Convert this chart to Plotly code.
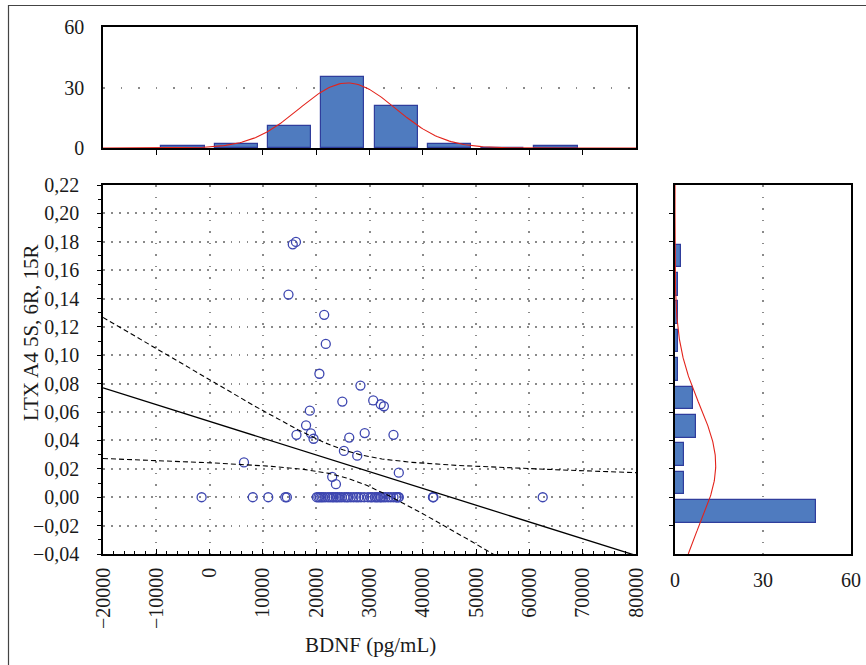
import numpy as np
import plotly.graph_objects as go

# ---------------- data ----------------
# BDNF (pg/mL) and LTX A4 5S,6R,15R for each subject
bdnf = [15600, 16200, 14800, 21500, 21800, 20600, 18800, 18100, 16300, 19000,
        19500, 6450, 28300, 24900, 30700, 32100, 32700, 26200, 29100, 34500,
        25200, 27700, 35500, 23000, 23700,
        -1500, 8100, 11000, 14200, 14500,
        20100, 20400, 20700, 21000, 21300, 21700, 22200, 22600, 23000, 23300,
        23700, 24000, 24400, 24800, 25300, 25700, 26000, 26500, 27000, 27500,
        27900, 28400, 29000, 29700,
        30200, 30500, 31000, 31300, 31600, 32000, 32200, 32600, 33000, 33500,
        34000, 34500, 35000, 35100, 35400, 35500,
        41900, 42000, 62500]
ltx = [0.1782, 0.1799, 0.1428, 0.1285, 0.108, 0.087, 0.061, 0.0507, 0.044, 0.045,
       0.0412, 0.0245, 0.0787, 0.0674, 0.0682, 0.0655, 0.0641, 0.042, 0.0452, 0.044,
       0.0326, 0.0293, 0.0173, 0.0144, 0.0092,
       0.0, 0.0, 0.0, 0.0, 0.0,
       0.0, 0.0, 0.0, 0.0, 0.0, 0.0, 0.0, 0.0, 0.0, 0.0,
       0.0, 0.0, 0.0, 0.0, 0.0, 0.0, 0.0, 0.0, 0.0, 0.0,
       0.0, 0.0, 0.0, 0.0,
       0.0, 0.0, 0.0, 0.0, 0.0, 0.0, 0.0, 0.0, 0.0, 0.0,
       0.0, 0.0, 0.0, 0.0, 0.0, 0.0,
       0.0, 0.0, 0.0]

x_tick_vals = [-20000, -10000, 0, 10000, 20000, 30000, 40000, 50000, 60000, 70000, 80000]
x_tick_text = ["\u221220000", "\u221210000", "0", "10000", "20000", "30000",
               "40000", "50000", "60000", "70000", "80000"]
y_tick_vals = [-0.04, -0.02, 0.00, 0.02, 0.04, 0.06, 0.08, 0.10, 0.12, 0.14,
               0.16, 0.18, 0.20, 0.22]
y_tick_text = ["\u22120,04", "\u22120,02", "0,00", "0,02", "0,04", "0,06", "0,08",
               "0,10", "0,12", "0,14", "0,16", "0,18", "0,20", "0,22"]
hist_tick_vals = [0, 30, 60]
hist_tick_text = ["0", "30", "60"]

x_bin_edges = [-10000, 0, 10000, 20000, 30000, 40000, 50000, 60000, 70000]
y_bin_edges = [-0.02, 0.0, 0.02, 0.04, 0.06, 0.08, 0.10, 0.12, 0.14, 0.16, 0.18, 0.20]

x_title = "BDNF (pg/mL)"
y_title = "LTX A4 5S, 6R, 15R"

t95 = 1.994  # Student t, 95 %, df = 71

# ---------------- derived quantities ----------------
X = np.array(bdnf, dtype=float)
Y = np.array(ltx, dtype=float)
n = len(X)

xe = np.array(x_bin_edges, dtype=float)
x_counts, _ = np.histogram(X, bins=xe)
x_centers = (xe[:-1] + xe[1:]) / 2
x_bw = xe[1] - xe[0]

ye = np.array(y_bin_edges, dtype=float)
idx = np.searchsorted(ye, Y - 1e-12, side="left") - 1   # right-inclusive bins
y_counts = np.bincount(idx, minlength=len(ye) - 1)[:len(ye) - 1]
y_centers = (ye[:-1] + ye[1:]) / 2
y_bw = ye[1] - ye[0]

xbar, ybar = X.mean(), Y.mean()
Sxx = ((X - xbar) ** 2).sum()
slope = ((X - xbar) * (Y - ybar)).sum() / Sxx
icpt = ybar - slope * xbar
s = np.sqrt(((Y - (icpt + slope * X)) ** 2).sum() / (n - 2))

xg = np.linspace(-20000, 80000, 301)
fit = icpt + slope * xg
half = t95 * s * np.sqrt(1 / n + (xg - xbar) ** 2 / Sxx)

sx, sy = X.std(ddof=1), Y.std(ddof=1)
xcurve = n * x_bw / (sx * np.sqrt(2 * np.pi)) * np.exp(-0.5 * ((xg - xbar) / sx) ** 2)
yg = np.linspace(-0.04, 0.22, 301)
ycurve = n * y_bw / (sy * np.sqrt(2 * np.pi)) * np.exp(-0.5 * ((yg - ybar) / sy) ** 2)

# ---------------- figure ----------------
FONT = "Liberation Serif, Times New Roman, serif"
BAR_FILL = "#4f7bbf"
BAR_EDGE = "#2f3d9c"
PT = "#3d46b0"

fig = go.Figure()

# main scatter
fig.add_trace(go.Scatter(x=X, y=Y, mode="markers", xaxis="x", yaxis="y",
                         marker=dict(symbol="circle-open", size=9, color=PT,
                                     line=dict(width=1.3, color=PT)),
                         showlegend=False))
fig.add_trace(go.Scatter(x=xg, y=fit, mode="lines", xaxis="x", yaxis="y",
                         line=dict(color="black", width=1.3), showlegend=False))
fig.add_trace(go.Scatter(x=xg, y=fit + half, mode="lines", xaxis="x", yaxis="y",
                         line=dict(color="black", width=1.1, dash="5px,3px"),
                         showlegend=False))
fig.add_trace(go.Scatter(x=xg, y=fit - half, mode="lines", xaxis="x", yaxis="y",
                         line=dict(color="black", width=1.1, dash="5px,3px"),
                         showlegend=False))

# top histogram
fig.add_trace(go.Bar(x=x_centers, y=x_counts, width=x_bw * 0.81, xaxis="x2", yaxis="y2",
                     marker=dict(color=BAR_FILL, line=dict(color=BAR_EDGE, width=1.2)),
                     showlegend=False))
fig.add_trace(go.Scatter(x=xg, y=xcurve, mode="lines", xaxis="x2", yaxis="y2",
                         line=dict(color="#e3231b", width=1.1), showlegend=False))

# right histogram
fig.add_trace(go.Bar(y=y_centers, x=y_counts, orientation="h", width=y_bw * 0.8,
                     xaxis="x3", yaxis="y3",
                     marker=dict(color=BAR_FILL, line=dict(color=BAR_EDGE, width=1.2)),
                     showlegend=False))
fig.add_trace(go.Scatter(x=ycurve, y=yg, mode="lines", xaxis="x3", yaxis="y3",
                         line=dict(color="#e3231b", width=1.1), showlegend=False))

W, H = 866, 665
def px(a): return a / W
def py(b): return 1 - b / H

tickfont = dict(family=FONT, size=20, color="#1a1a1a")
titlefont = dict(family=FONT, size=21, color="#1a1a1a")
common_line = dict(showline=True, linecolor="black", linewidth=1.5, mirror=True,
                   zeroline=False, automargin=False)

fig.update_layout(
    width=W, height=H, margin=dict(l=0, r=0, t=0, b=0, autoexpand=False),
    paper_bgcolor="white", plot_bgcolor="white", bargap=0,
    font=dict(family=FONT, color="#1a1a1a"),
    xaxis=dict(domain=[px(103), px(636)], anchor="y", range=[-20000, 80000],
               tickmode="array", tickvals=x_tick_vals, ticktext=x_tick_text,
               tickangle=-90, tickfont=tickfont, ticks="inside", ticklen=5,
               tickcolor="black", ticklabelstandoff=4,
               minor=dict(dtick=2000, tick0=0, ticks="inside", ticklen=3,
                          tickcolor="black", showgrid=False),
               showgrid=True, gridcolor="#8a8a8a", gridwidth=1.5, griddash="1.5px,10px",
               **common_line),
    yaxis=dict(domain=[py(554), py(185)], anchor="x", range=[-0.04, 0.22],
               tickmode="array", tickvals=y_tick_vals, ticktext=y_tick_text,
               tickfont=tickfont, ticks="outside", ticklen=4, tickcolor="black",
               ticklabelstandoff=14,
               minor=dict(dtick=0.01, tick0=0, ticks="outside", ticklen=3,
                          tickcolor="black", showgrid=False),
               showgrid=True, gridcolor="#8a8a8a", gridwidth=1.5, griddash="1.5px,6.5px",
               **common_line),
    xaxis2=dict(domain=[px(103), px(636)], anchor="y2", range=[-20000, 80000],
                tickmode="array", tickvals=x_bin_edges, showticklabels=False,
                ticks="outside", ticklen=5, tickcolor="black", showgrid=False,
                **common_line),
    yaxis2=dict(domain=[py(148), py(27)], anchor="x2", range=[0, 60],
                tickmode="array", tickvals=hist_tick_vals, ticktext=hist_tick_text,
                tickfont=tickfont, ticks="", ticklabelstandoff=13,
                showgrid=True, gridcolor="#8a8a8a", gridwidth=1.5, griddash="1.5px,16px",
                **common_line),
    xaxis3=dict(domain=[px(675), px(851)], anchor="y3", range=[0, 60],
                tickmode="array", tickvals=hist_tick_vals, ticktext=hist_tick_text,
                tickfont=tickfont, ticks="", ticklabelstandoff=7,
                showgrid=True, gridcolor="#8a8a8a", gridwidth=1.5, griddash="1.5px,10px",
                **common_line),
    yaxis3=dict(domain=[py(554), py(185)], anchor="x3", range=[-0.04, 0.22],
                tickmode="array", tickvals=y_bin_edges, showticklabels=False,
                ticks="outside", ticklen=4, tickcolor="black", showgrid=False,
                **common_line),
    shapes=[dict(type="rect", xref="paper", yref="paper",
                 x0=px(8.5), x1=1.05, y0=-0.05, y1=py(5.5),
                 line=dict(color="#444", width=1.2), layer="below")],
    annotations=[
        dict(text=x_title, xref="paper", yref="paper", x=px(370), y=py(645),
             xanchor="center", yanchor="middle", showarrow=False, font=titlefont),
        dict(text=y_title, xref="paper", yref="paper", x=px(31), y=py(333),
             xanchor="center", yanchor="middle", textangle=-90, showarrow=False,
             font=titlefont),
    ],
)

fig.write_html("out.html", config={"displayModeBar": False},
               post_script="document.body.style.margin='0';document.body.style.padding='0';")
